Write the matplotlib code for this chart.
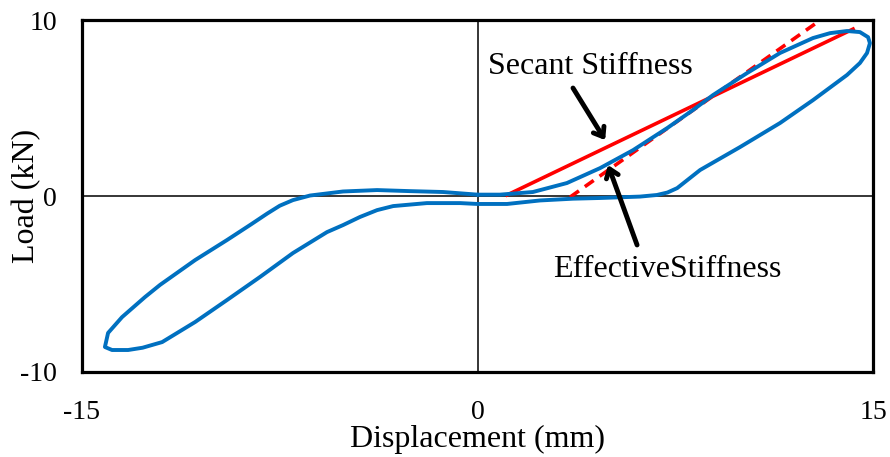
import matplotlib.pyplot as plt

# hysteresis loop (displacement mm, load kN)
disp = [0.0, 0.85, 2.10, 3.39, 4.65, 5.90, 7.19, 8.17, 8.93, 10.22, 11.47, 12.72, 13.37,
        14.01, 14.50, 14.81, 14.88, 14.77, 14.50, 14.01, 12.72, 11.47, 9.95, 8.44, 7.57,
        7.20, 6.80, 6.16, 4.65, 3.62, 2.37, 1.12, 0.0, -0.66, -1.92, -3.20, -3.81, -4.46,
        -5.10, -5.71, -6.09, -7.00, -8.25, -9.50, -10.71, -11.96, -12.70, -13.25, -13.86,
        -14.13, -14.01, -13.48, -12.61, -12.04, -10.71, -9.50, -8.60, -7.98, -7.50, -7.00,
        -6.35, -5.10, -3.81, -2.56, -1.31, 0.0]
load = [0.08, 0.08, 0.23, 0.74, 1.59, 2.61, 3.86, 4.89, 5.74, 6.99, 8.13, 8.98, 9.26,
        9.38, 9.32, 9.03, 8.69, 8.13, 7.56, 6.88, 5.45, 4.15, 2.78, 1.48, 0.45,
        0.20, 0.06, -0.03, -0.11, -0.15, -0.25, -0.45, -0.45, -0.40, -0.40, -0.57, -0.80,
        -1.19, -1.65, -2.05, -2.40, -3.24, -4.60, -5.91, -7.16, -8.30, -8.62, -8.75, -8.75,
        -8.58, -7.78, -6.88, -5.74, -5.05, -3.64, -2.50, -1.62, -1.00, -0.55, -0.23,
        0.03, 0.26, 0.34, 0.28, 0.23, 0.08]

secant_x = [1.12, 14.24]
secant_y = [0.06, 9.49]
effective_x = [3.51, 13.0]
effective_y = [-0.06, 10.0]

xticks = [-15, 0, 15]
yticks = [-10, 0, 10]

plt.rcParams['font.family'] = ['Liberation Serif', 'DejaVu Serif']
plt.rcParams['axes.unicode_minus'] = False

fig = plt.figure(figsize=(8.9, 4.57), dpi=100)
ax = fig.add_axes([0.0921, 0.186, 0.8889, 0.770])

ax.axhline(0, color='black', lw=1.1, zorder=1)
ax.axvline(0, color='black', lw=1.1, zorder=1)

ax.plot(secant_x, secant_y, color='#FF0000', lw=2.6, zorder=2)
ax.plot(effective_x, effective_y, color='#FF0000', lw=2.6, ls=(0, (3, 2)), zorder=2)
ax.plot(disp, load, color='#0070C0', lw=2.8, zorder=3,
        solid_joinstyle='round', solid_capstyle='round')

ax.annotate('Secant Stiffness', xy=(4.84, 3.18), xytext=(0.40, 7.39),
            fontsize=23, va='center', ha='left')
ax.annotate('', xy=(4.84, 3.18), xytext=(3.62, 6.14),
            arrowprops=dict(arrowstyle='->,head_length=0.6,head_width=0.45', lw=3.5,
                            color='black', shrinkA=0, shrinkB=0))
ax.annotate('EffectiveStiffness', xy=(4.95, 1.76), xytext=(2.86, -4.20),
            fontsize=23, va='center', ha='left')
ax.annotate('', xy=(4.95, 1.76), xytext=(6.05, -2.78),
            arrowprops=dict(arrowstyle='->,head_length=0.6,head_width=0.45', lw=3.5,
                            color='black', shrinkA=0, shrinkB=0))

ax.set_xlim(-15, 15)
ax.set_ylim(-10, 10)
ax.set_xticks(xticks)
ax.set_yticks(yticks)
ax.tick_params(axis='both', length=0, labelsize=20)
ax.tick_params(axis='x', pad=20)
ax.tick_params(axis='y', pad=18)
for s in ax.spines.values():
    s.set_linewidth(2.3)

ax.set_xlabel('Displacement (mm)', fontsize=23)
ax.xaxis.set_label_coords(0.5, -0.15)
ax.xaxis.label.set_va('top')
ax.set_ylabel('Load (kN)', fontsize=23)
ax.yaxis.set_label_coords(-0.052, 0.5)

fig.savefig('out.png', dpi=100)
